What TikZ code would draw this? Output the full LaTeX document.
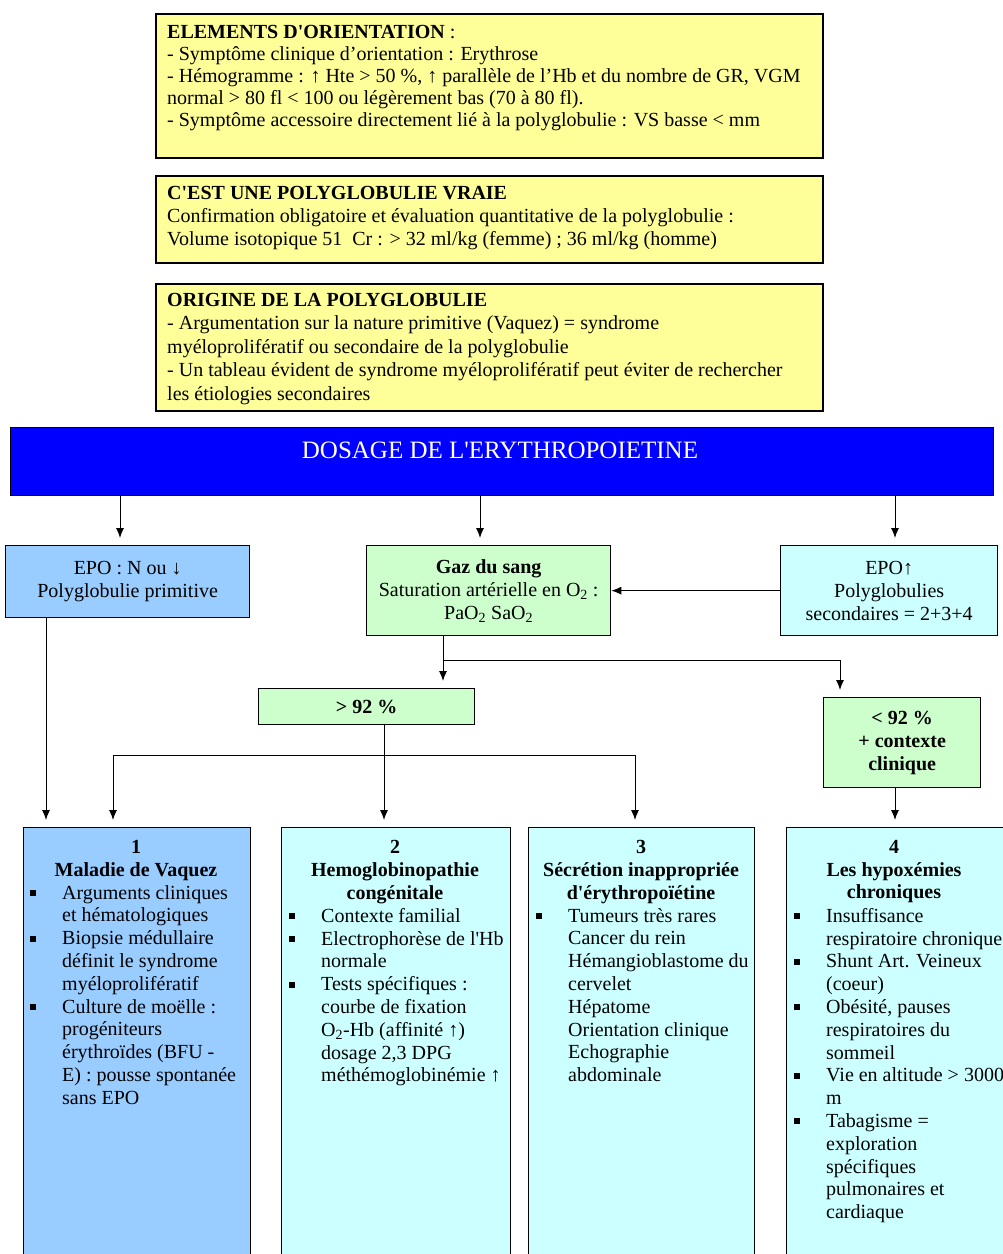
\documentclass[tikz,border=0pt]{standalone}
\usepackage{fontspec}
\setmainfont{Liberation Serif}[Ligatures=TeXOff]
\usetikzlibrary{arrows.meta,positioning}
\definecolor{jaune}{HTML}{FFFF99}
\definecolor{bleufonce}{HTML}{0000FF}
\definecolor{bleuclair}{HTML}{99CCFF}
\definecolor{vertclair}{HTML}{CCFFCC}
\definecolor{ciel}{HTML}{CCFFFF}
\tikzset{
  cadre/.style={draw, line width=1.3pt, inner sep=0pt, anchor=north west, align=center},
  texte/.style={inner sep=0pt, align=left, anchor=north west},
  titre/.style={inner sep=0pt, align=center, anchor=north, font=\fontsize{20}{22.8}\selectfont\bfseries},
  fleche/.style={-{Latex[length=10pt,width=8pt]}, line width=1pt},
  trait/.style={line width=1pt},
}
\newcommand\puce{\makebox[0pt][r]{\rule[3pt]{6pt}{6pt}\hspace{26pt}}}
\begin{document}
\begin{tikzpicture}[x=1pt,y=-1pt,font=\fontsize{20}{23}\selectfont]
\useasboundingbox (0,0) rectangle (1003,1254);
\clip (0,0) rectangle (1003,1254);
\node[cadre,fill=jaune,line width=1.6pt,minimum width=667,minimum height=144] (elem) at (155,13) {};
\node[texte,font=\fontsize{20}{22}\selectfont] (elemtxt) at (167,25) {\textbf{ELEMENTS D'ORIENTATION} :\\
- Symptôme clinique d’orientation : Erythrose\\
- Hémogramme : ↑ Hte > 50 \%, ↑ parallèle de l’Hb et du nombre de GR, VGM\\
normal > 80 fl < 100 ou légèrement bas (70 à 80 fl).\\
- Symptôme accessoire directement lié à la polyglobulie : VS basse < mm};
\node[cadre,fill=jaune,line width=1.6pt,minimum width=667,minimum height=87] (vraie) at (155,175) {};
\node[texte] (vraietxt) at (167,186) {\textbf{C'EST UNE POLYGLOBULIE VRAIE}\\
Confirmation obligatoire et évaluation quantitative de la polyglobulie :\\
Volume isotopique 51~~Cr : > 32 ml/kg (femme) ; 36 ml/kg (homme)};
\node[cadre,fill=jaune,line width=1.6pt,minimum width=667,minimum height=127] (origine) at (155,283) {};
\node[texte,font=\fontsize{20}{23.5}\selectfont] (originetxt) at (167,293) {\textbf{ORIGINE DE LA POLYGLOBULIE}\\
- Argumentation sur la nature primitive (Vaquez) = syndrome\\
myéloprolifératif ou secondaire de la polyglobulie\\
- Un tableau évident de syndrome myéloprolifératif peut éviter de rechercher\\
les étiologies secondaires};
\node[cadre,fill=bleufonce,minimum width=983,minimum height=68] (bar) at (10,427) {};
\node[text=white,inner sep=0pt,font=\fontsize{25}{28}\selectfont] (bartxt) at (500,450) {DOSAGE DE L'ERYTHROPOIETINE};
\node[cadre,fill=bleuclair,minimum width=244,minimum height=72] (epoN) at (5,545) {EPO : N ou ↓\\ Polyglobulie primitive};
\node[cadre,fill=vertclair,minimum width=244,minimum height=90] (gaz) at (366,545) {\textbf{Gaz du sang}\\ Saturation artérielle en O\textsubscript{2} :\\ PaO\textsubscript{2} SaO\textsubscript{2}};
\node[cadre,fill=ciel,minimum width=217,minimum height=90] (epoU) at (780,545) {EPO↑\\ Polyglobulies\\ secondaires = 2+3+4};
\node[cadre,fill=vertclair,minimum width=216,minimum height=36,font=\fontsize{20}{23}\selectfont\bfseries] (sup92) at (258,688) {> 92 \%};
\node[cadre,fill=vertclair,minimum width=157,minimum height=90,font=\fontsize{20}{23}\selectfont\bfseries] (inf92) at (823,697) {< 92 \%\\ + contexte\\ clinique};
\node[cadre,fill=bleuclair,minimum width=227,minimum height=440] (b1) at (23,827) {};
\node[cadre,fill=ciel,minimum width=229,minimum height=440] (b2) at (281,827) {};
\node[cadre,fill=ciel,minimum width=226,minimum height=440] (b3) at (528,827) {};
\node[cadre,fill=ciel,minimum width=230,minimum height=440] (b4) at (786,827) {};
\node[titre] (t1) at (136,840) {1\\ Maladie de Vaquez};
\node[titre] (t2) at (395,840) {2\\ Hemoglobinopathie\\ congénitale};
\node[titre] (t3) at (641,840) {3\\ Sécrétion inappropriée\\ d'érythropoïétine};
\node[titre] (t4) at (894,840) {4\\ Les hypoxémies\\ chroniques};
\node[texte,font=\fontsize{20}{22.8}\selectfont] (l1) at (62,885) {\puce Arguments cliniques\\ et hématologiques\\
\puce Biopsie médullaire\\ définit le syndrome\\ myéloprolifératif\\
\puce Culture de moëlle :\\ progéniteurs\\ érythroïdes (BFU -\\ E) : pousse spontanée\\ sans EPO};
\node[texte,font=\fontsize{20}{22.8}\selectfont] (l2) at (321,908) {\puce Contexte familial\\
\puce Electrophorèse de l'Hb\\ normale\\
\puce Tests spécifiques :\\ courbe de fixation\\ O\textsubscript{2}-Hb (affinité ↑)\\ dosage 2,3 DPG\\ méthémoglobinémie ↑};
\node[texte,font=\fontsize{20}{22.8}\selectfont] (l3) at (568,908) {\puce Tumeurs très rares\\ Cancer du rein\\ Hémangioblastome du\\ cervelet\\ Hépatome\\ Orientation clinique\\ Echographie\\ abdominale};
\node[texte,font=\fontsize{20}{22.8}\selectfont] (l4) at (826,908) {\puce Insuffisance\\ respiratoire chronique\\
\puce Shunt Art. Veineux\\ (coeur)\\
\puce Obésité, pauses\\ respiratoires du\\ sommeil\\
\puce Vie en altitude > 3000\\ m\\
\puce Tabagisme =\\ exploration\\ spécifiques\\ pulmonaires et\\ cardiaque};
\coordinate (cA) at (120,0);
\coordinate (cB) at (480,0);
\coordinate (cC) at (895,0);
\coordinate (cD) at (46,0);
\coordinate (s1) at (443,660);
\coordinate (s2) at (840,660);
\coordinate (s3) at (113,755);
\coordinate (s4) at (635,755);
\coordinate (s5) at (384,755);
\draw[fleche,shorten >=7pt] (bar.south -| cA) -- (epoN.north -| cA);
\draw[fleche,shorten >=7pt] (bar.south -| cB) -- (gaz.north -| cB);
\draw[fleche,shorten >=7pt] (bar.south -| cC) -- (epoU.north -| cC);
\draw[fleche] (epoU) -- (gaz);
\draw[fleche,shorten >=7pt] (gaz.south -| s1) -- (sup92.north -| s1);
\draw[fleche,shorten >=7pt] (s1) -- (s2) -- (inf92.north -| s2);
\draw[trait] (s3) -- (s4);
\draw[fleche,shorten >=7pt] (s3) -- (b1.north -| s3);
\draw[fleche,shorten >=7pt] (s4) -- (b3.north -| s4);
\draw[fleche,shorten >=7pt] (sup92.south -| s5) -- (b2.north -| s5);
\draw[fleche,shorten >=7pt] (epoN.south -| cD) -- (b1.north -| cD);
\draw[fleche,shorten >=7pt] (inf92.south -| cC) -- (b4.north -| cC);
\end{tikzpicture}
\end{document}
